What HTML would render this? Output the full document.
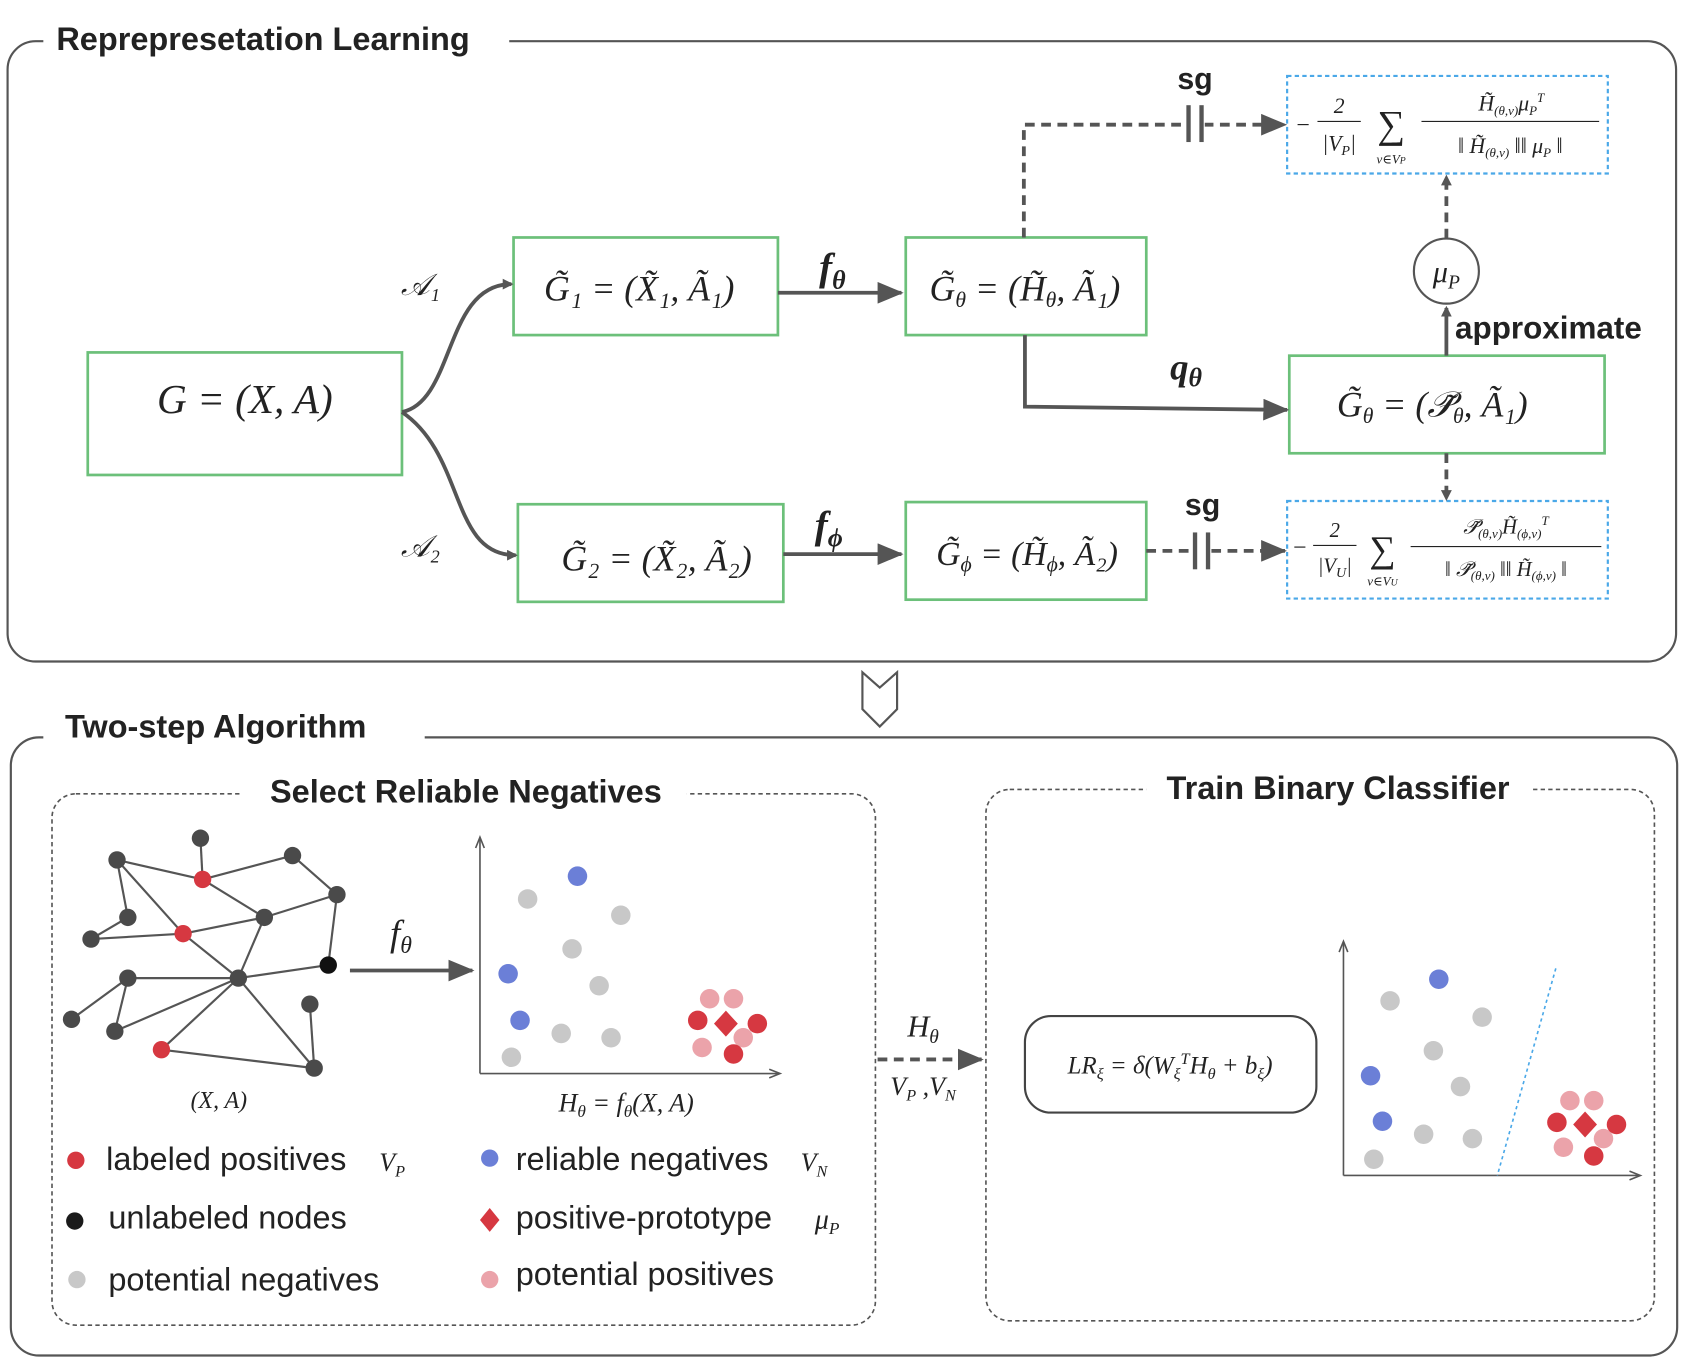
<!DOCTYPE html>
<html><head><meta charset="utf-8"><style>
html,body{margin:0;padding:0;background:#fff}
svg{display:block}
.t{font-family:"Liberation Sans","DejaVu Sans",sans-serif;font-weight:bold;fill:#222}
.m{font-family:"Liberation Serif","DejaVu Serif",serif;font-style:italic;fill:#222}
.l{font-family:"Liberation Sans","DejaVu Sans",sans-serif;fill:#222;font-size:30px}
.gb{fill:#fff;stroke:#6cc07a;stroke-width:2.5}
.db{fill:none;stroke:#4aa8e8;stroke-width:2;stroke-dasharray:4 3}
.ar{fill:none;stroke:#555;stroke-width:3.5}
.da{fill:none;stroke:#555;stroke-width:3.5;stroke-dasharray:9 6}
.e{stroke:#555;stroke-width:2}
</style></head><body>
<svg width="1701" height="1362" viewBox="0 0 1570 1256" preserveAspectRatio="none" xmlns="http://www.w3.org/2000/svg">
<defs>
<marker id="ah" markerWidth="10" markerHeight="10" refX="8" refY="5" orient="auto" markerUnits="userSpaceOnUse" viewBox="0 0 10 10"><path d="M0,0 L10,5 L0,10 z" fill="#555"/></marker>
<marker id="ahb" markerWidth="24" markerHeight="20" refX="22" refY="10" orient="auto" markerUnits="userSpaceOnUse" viewBox="0 0 24 20"><path d="M0,0 L24,10 L0,20 z" fill="#555"/></marker>
</defs>
<rect x="7" y="38" width="1540" height="572" rx="26" fill="none" stroke="#555" stroke-width="2"/>
<rect x="40" y="20" width="430" height="36" fill="#fff"/>
<text class="t" x="52" y="46" font-size="30">Reprepresetation Learning</text>

<rect class="gb" x="81" y="325" width="290" height="113"/>
<text class="m" x="226" y="381" font-size="38" text-anchor="middle">G = (X, A)</text>
<rect class="gb" x="474" y="219" width="244" height="90"/>
<text class="m" x="590" y="277" font-size="33" text-anchor="middle">G̃₁ = (X̃₁, Ã₁)</text>
<rect class="gb" x="836" y="219" width="222" height="90"/>
<text class="m" x="946" y="277" font-size="33" text-anchor="middle">G̃<tspan font-size="20" dy="6">θ</tspan><tspan dy="-6"> = (H̃</tspan><tspan font-size="20" dy="6">θ</tspan><tspan dy="-6">, Ã₁)</tspan></text>
<rect class="gb" x="478" y="465" width="245" height="90"/>
<text class="m" x="606" y="526" font-size="33" text-anchor="middle">G̃₂ = (X̃₂, Ã₂)</text>
<rect class="gb" x="836" y="463" width="222" height="90"/>
<text class="m" x="948" y="521" font-size="31" text-anchor="middle">G̃<tspan font-size="20" dy="6">ϕ</tspan><tspan dy="-6"> = (H̃</tspan><tspan font-size="20" dy="6">ϕ</tspan><tspan dy="-6">, Ã₂)</tspan></text>
<rect class="gb" x="1190" y="328" width="291" height="90"/>
<text class="m" x="1322" y="384" font-size="33" text-anchor="middle">G̃<tspan font-size="20" dy="6">θ</tspan><tspan dy="-6"> = (𝒫̃</tspan><tspan font-size="20" dy="6">θ</tspan><tspan dy="-6">, Ã₁)</tspan></text>
<circle cx="1335" cy="250" r="30" fill="#fff" stroke="#555" stroke-width="2"/>
<text class="m" x="1335" y="260" font-size="28" text-anchor="middle">μ<tspan font-size="18" dy="6">P</tspan></text>

<rect class="db" x="1188" y="70" width="296" height="90"/>
<text class="m" x="1195" y="122" font-size="22">−</text>
<text class="m" x="1236" y="104" font-size="20" text-anchor="middle">2</text>
<line x1="1216" y1="112" x2="1256" y2="112" stroke="#222" stroke-width="1"/>
<text class="m" x="1236" y="139" font-size="20" text-anchor="middle">|V<tspan font-size="13" dy="4">P</tspan><tspan dy="-4">|</tspan></text>
<text class="m" x="1284" y="127" font-size="36" text-anchor="middle" font-style="normal">∑</text>
<text class="m" x="1284" y="151" font-size="12" text-anchor="middle">v∈V<tspan font-size="9">P</tspan></text>
<text class="m" x="1395" y="102" font-size="20" text-anchor="middle">H̃<tspan font-size="12" dy="4">(θ,v)</tspan><tspan dy="-4">μ</tspan><tspan font-size="12" dy="4">P</tspan><tspan font-size="12" dy="-12">T</tspan></text>
<line x1="1312" y1="112" x2="1476" y2="112" stroke="#222" stroke-width="1"/>
<text class="m" x="1394" y="141" font-size="20" text-anchor="middle">‖ H̃<tspan font-size="12" dy="4">(θ,v)</tspan><tspan dy="-4"> ‖‖ μ</tspan><tspan font-size="12" dy="4">P</tspan><tspan dy="-4"> ‖</tspan></text>

<rect class="db" x="1188" y="462" width="296" height="90"/>
<text class="m" x="1192" y="512" font-size="22">−</text>
<text class="m" x="1232" y="495" font-size="19" text-anchor="middle">2</text>
<line x1="1212" y1="503" x2="1252" y2="503" stroke="#222" stroke-width="1"/>
<text class="m" x="1232" y="528" font-size="19" text-anchor="middle">|V<tspan font-size="13" dy="4">U</tspan><tspan dy="-4">|</tspan></text>
<text class="m" x="1276" y="518" font-size="34" text-anchor="middle" font-style="normal">∑</text>
<text class="m" x="1276" y="540" font-size="12" text-anchor="middle">v∈V<tspan font-size="9">U</tspan></text>
<text class="m" x="1390" y="492" font-size="19" text-anchor="middle">𝒫̃<tspan font-size="12" dy="4">(θ,v)</tspan><tspan dy="-4">H̃</tspan><tspan font-size="12" dy="4">(ϕ,v)</tspan><tspan font-size="12" dy="-12">T</tspan></text>
<line x1="1302" y1="504" x2="1478" y2="504" stroke="#222" stroke-width="1"/>
<text class="m" x="1390" y="531" font-size="19" text-anchor="middle">‖ 𝒫̃<tspan font-size="12" dy="4">(θ,v)</tspan><tspan dy="-4"> ‖‖ H̃</tspan><tspan font-size="12" dy="4">(ϕ,v)</tspan><tspan dy="-4"> ‖</tspan></text>

<path class="ar" d="M371,380 C420,370 410,262 472,262" marker-end="url(#ah)"/>
<path class="ar" d="M371,380 C430,420 415,512 476,512" marker-end="url(#ah)"/>
<text class="m" x="370" y="272" font-size="28">𝒜₁</text>
<text class="m" x="370" y="513" font-size="28">𝒜₂</text>
<path class="ar" d="M718,270 L832,270" marker-end="url(#ahb)"/>
<text class="m" x="756" y="258" font-size="36" font-weight="bold">f<tspan font-size="24" dy="8">θ</tspan></text>
<path class="ar" d="M723,511 L832,511" marker-end="url(#ahb)"/>
<text class="m" x="752" y="496" font-size="36" font-weight="bold">f<tspan font-size="24" dy="8">ϕ</tspan></text>
<path class="da" d="M945,219 L945,115 L1186,115" marker-end="url(#ahb)"/>
<rect x="1094" y="98" width="18" height="34" fill="#fff"/>
<line x1="1097" y1="97" x2="1097" y2="131" stroke="#555" stroke-width="4"/>
<line x1="1109" y1="97" x2="1109" y2="131" stroke="#555" stroke-width="4"/>
<text class="t" x="1103" y="82" font-size="28" text-anchor="middle">sg</text>
<path class="ar" d="M946,309 L946,375 L1188,378" marker-end="url(#ahb)"/>
<text class="m" x="1080" y="350" font-size="34" font-weight="bold">q<tspan font-size="24" dy="6">θ</tspan></text>
<path class="da" d="M1058,508 L1186,508" marker-end="url(#ahb)"/>
<rect x="1100" y="491" width="18" height="34" fill="#fff"/>
<line x1="1103" y1="491" x2="1103" y2="525" stroke="#555" stroke-width="4"/>
<line x1="1115" y1="491" x2="1115" y2="525" stroke="#555" stroke-width="4"/>
<text class="t" x="1110" y="475" font-size="28" text-anchor="middle">sg</text>
<path class="ar" d="M1335,328 L1335,284" marker-end="url(#ah)"/>
<text class="t" x="1343" y="312" font-size="29">approximate</text>
<path class="da" d="M1335,220 L1335,163" marker-end="url(#ah)"/>
<path class="da" d="M1335,418 L1335,460" marker-end="url(#ah)"/>

<path d="M796,620 L812,634 L828,620 L828,654 L812,670 L796,654 Z" fill="#fff" stroke="#555" stroke-width="2"/>

<rect x="10" y="680" width="1538" height="570" rx="26" fill="none" stroke="#555" stroke-width="2"/>
<rect x="40" y="660" width="352" height="36" fill="#fff"/>
<text class="t" x="60" y="680" font-size="30">Two-step Algorithm</text>

<rect x="48" y="732" width="760" height="490" rx="22" fill="none" stroke="#555" stroke-width="1.5" stroke-dasharray="4 3"/>
<rect x="222" y="712" width="412" height="36" fill="#fff"/>
<text class="t" x="430" y="740" font-size="30" text-anchor="middle">Select Reliable Negatives</text>
<rect x="910" y="728" width="617" height="490" rx="22" fill="none" stroke="#555" stroke-width="1.5" stroke-dasharray="4 3"/>
<rect x="1058" y="708" width="356" height="36" fill="#fff"/>
<text class="t" x="1235" y="737" font-size="30" text-anchor="middle">Train Binary Classifier</text>

<g class="e">
<line x1="108" y1="793" x2="187" y2="811"/><line x1="108" y1="793" x2="118" y2="846"/><line x1="108" y1="793" x2="169" y2="861"/>
<line x1="185" y1="773" x2="187" y2="811"/><line x1="187" y1="811" x2="270" y2="789"/><line x1="187" y1="811" x2="244" y2="846"/>
<line x1="270" y1="789" x2="311" y2="825"/><line x1="311" y1="825" x2="244" y2="846"/><line x1="311" y1="825" x2="303" y2="890"/>
<line x1="244" y1="846" x2="169" y2="861"/><line x1="244" y1="846" x2="220" y2="902"/><line x1="169" y1="861" x2="84" y2="866"/>
<line x1="84" y1="866" x2="118" y2="846"/><line x1="169" y1="861" x2="220" y2="902"/><line x1="220" y1="902" x2="303" y2="890"/>
<line x1="220" y1="902" x2="118" y2="902"/><line x1="220" y1="902" x2="106" y2="951"/><line x1="220" y1="902" x2="149" y2="968"/>
<line x1="220" y1="902" x2="290" y2="985"/><line x1="118" y1="902" x2="66" y2="940"/><line x1="118" y1="902" x2="106" y2="951"/>
<line x1="286" y1="926" x2="290" y2="985"/><line x1="149" y1="968" x2="290" y2="985"/>
</g>
<g fill="#4a4a4a">
<circle cx="108" cy="793" r="8"/><circle cx="185" cy="773" r="8"/><circle cx="270" cy="789" r="8"/><circle cx="311" cy="825" r="8"/>
<circle cx="244" cy="846" r="8"/><circle cx="118" cy="846" r="8"/><circle cx="84" cy="866" r="8"/><circle cx="220" cy="902" r="8"/>
<circle cx="118" cy="902" r="8"/><circle cx="66" cy="940" r="8"/><circle cx="106" cy="951" r="8"/><circle cx="286" cy="926" r="8"/><circle cx="290" cy="985" r="8"/>
</g>
<circle cx="303" cy="890" r="8" fill="#111"/>
<g fill="#d63841"><circle cx="187" cy="811" r="8"/><circle cx="169" cy="861" r="8"/><circle cx="149" cy="968" r="8"/></g>
<text class="m" x="202" y="1022" font-size="22" text-anchor="middle">(X, A)</text>
<path class="ar" d="M323,895 L436,895" marker-end="url(#ahb)"/>
<text class="m" x="360" y="872" font-size="34">f<tspan font-size="22" dy="7">θ</tspan></text>

<path d="M443,990 L443,774 M443,990 L718,990" stroke="#555" stroke-width="1.5" fill="none"/>
<path d="M439,782 L443,772 L447,782 M710,986 L720,990 L710,994" stroke="#555" stroke-width="1.5" fill="none"/>
<g fill="#c8c8c8"><circle cx="487" cy="829" r="9"/><circle cx="573" cy="844" r="9"/><circle cx="528" cy="875" r="9"/><circle cx="553" cy="909" r="9"/><circle cx="518" cy="953" r="9"/><circle cx="564" cy="957" r="9"/><circle cx="472" cy="975" r="9"/></g>
<g fill="#6b7fd7"><circle cx="533" cy="808" r="9"/><circle cx="469" cy="898" r="9"/><circle cx="480" cy="941" r="9"/></g>
<g fill="#eba3aa"><circle cx="655" cy="921" r="9"/><circle cx="677" cy="921" r="9"/><circle cx="686" cy="957" r="9"/><circle cx="648" cy="966" r="9"/></g>
<g fill="#d63841"><circle cx="644" cy="941" r="9"/><circle cx="699" cy="944" r="9"/><circle cx="677" cy="972" r="9"/><path d="M670,932 L681,944 L670,956 L659,944 Z"/></g>
<text class="m" x="578" y="1025" font-size="24" text-anchor="middle">H<tspan font-size="16" dy="5">θ</tspan><tspan dy="-5"> = f</tspan><tspan font-size="16" dy="5">θ</tspan><tspan dy="-5">(X, A)</tspan></text>

<circle cx="70" cy="1070" r="8" fill="#d63841"/><text class="l" x="98" y="1079">labeled positives</text><text class="m" x="350" y="1080" font-size="24">V<tspan font-size="15" dy="5">P</tspan></text>
<circle cx="69" cy="1126" r="8" fill="#1a1a1a"/><text class="l" x="100" y="1133">unlabeled nodes</text>
<circle cx="71" cy="1180" r="8" fill="#c8c8c8"/><text class="l" x="100" y="1190">potential negatives</text>
<circle cx="452" cy="1068" r="8" fill="#6b7fd7"/><text class="l" x="476" y="1079">reliable negatives</text><text class="m" x="739" y="1080" font-size="24">V<tspan font-size="15" dy="5">N</tspan></text>
<path d="M452,1114 L461,1125 L452,1136 L443,1125 Z" fill="#d63841"/><text class="l" x="476" y="1133">positive-prototype</text><text class="m" x="752" y="1133" font-size="26">μ<tspan font-size="16" dy="5">P</tspan></text>
<circle cx="452" cy="1180" r="8" fill="#eba3aa"/><text class="l" x="476" y="1185">potential positives</text>

<text class="m" x="852" y="956" font-size="28" text-anchor="middle">H<tspan font-size="18" dy="6">θ</tspan></text>
<path class="da" d="M810,977 L906,977" marker-end="url(#ahb)"/>
<text class="m" x="852" y="1010" font-size="24" text-anchor="middle">V<tspan font-size="15" dy="5">P</tspan><tspan dy="-5"> ,V</tspan><tspan font-size="15" dy="5">N</tspan></text>

<rect x="946" y="937" width="269" height="89" rx="24" fill="#fff" stroke="#444" stroke-width="2"/>
<text class="m" x="1080" y="990" font-size="23" text-anchor="middle">LR<tspan font-size="15" dy="5">ξ</tspan><tspan dy="-5"> = δ(W</tspan><tspan font-size="15" dy="5">ξ</tspan><tspan font-size="15" dy="-14">T</tspan><tspan dy="9">H</tspan><tspan font-size="15" dy="5">θ</tspan><tspan dy="-5"> + b</tspan><tspan font-size="15" dy="5">ξ</tspan><tspan dy="-5">)</tspan></text>

<path d="M1240,1084 L1240,870 M1240,1084 L1512,1084" stroke="#555" stroke-width="1.5" fill="none"/>
<path d="M1236,878 L1240,868 L1244,878 M1504,1080 L1514,1084 L1504,1088" stroke="#555" stroke-width="1.5" fill="none"/>
<line x1="1436" y1="893" x2="1382" y2="1084" stroke="#4aa8e8" stroke-width="1.5" stroke-dasharray="3 3"/>
<g fill="#c8c8c8"><circle cx="1283" cy="923" r="9"/><circle cx="1368" cy="938" r="9"/><circle cx="1323" cy="969" r="9"/><circle cx="1348" cy="1002" r="9"/><circle cx="1314" cy="1046" r="9"/><circle cx="1359" cy="1050" r="9"/><circle cx="1268" cy="1069" r="9"/></g>
<g fill="#6b7fd7"><circle cx="1328" cy="903" r="9"/><circle cx="1265" cy="992" r="9"/><circle cx="1276" cy="1034" r="9"/></g>
<g fill="#eba3aa"><circle cx="1449" cy="1015" r="9"/><circle cx="1471" cy="1015" r="9"/><circle cx="1480" cy="1050" r="9"/><circle cx="1443" cy="1058" r="9"/></g>
<g fill="#d63841"><circle cx="1437" cy="1035" r="9"/><circle cx="1492" cy="1037" r="9"/><circle cx="1471" cy="1066" r="9"/><path d="M1463,1025 L1474,1037 L1463,1049 L1452,1037 Z"/></g>
</svg>
</body></html>
